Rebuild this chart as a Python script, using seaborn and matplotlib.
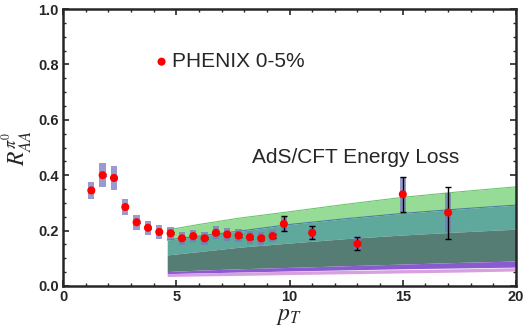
import numpy as np
import pandas as pd
import matplotlib
matplotlib.use("Agg")
import matplotlib.pyplot as plt
import seaborn as sns
from matplotlib.ticker import MultipleLocator

# PHENIX 0-5% pi0 R_AA
pt = [1.25, 1.75, 2.25, 2.75, 3.25, 3.75, 4.25, 4.75, 5.25, 5.75, 6.25,
      6.75, 7.25, 7.75, 8.25, 8.75, 9.25, 9.75, 11.0, 13.0, 15.0, 17.0]
raa = [0.345, 0.40, 0.39, 0.285, 0.23, 0.21, 0.195, 0.19, 0.172, 0.18, 0.172,
       0.192, 0.186, 0.182, 0.176, 0.172, 0.18, 0.224, 0.192, 0.152, 0.331, 0.265]
sys_err = [0.030, 0.044, 0.044, 0.029, 0.027, 0.026, 0.025, 0.024, 0.023, 0.023, 0.023,
           0.023, 0.023, 0.023, 0.023, 0.023, 0.023, 0.026, 0.022, 0.02, 0.064, 0.07]
stat_err = [0.004, 0.004, 0.004, 0.004, 0.004, 0.004, 0.004, 0.004, 0.004, 0.004, 0.004,
            0.005, 0.005, 0.005, 0.006, 0.007, 0.008, 0.027, 0.024, 0.024, 0.064, 0.094]

# AdS/CFT energy loss bands (edges)
band_pt = [4.6, 6.0, 7.8, 10.0, 12.5, 15.0, 17.5, 20.0]
pink_lo = [0.034, 0.036, 0.038, 0.041, 0.044, 0.047, 0.050, 0.054]
pink_hi = [0.045, 0.047, 0.050, 0.053, 0.056, 0.059, 0.062, 0.066]
purple_lo = [0.044, 0.047, 0.050, 0.054, 0.058, 0.062, 0.065, 0.068]
purple_hi = [0.052, 0.057, 0.062, 0.067, 0.073, 0.079, 0.085, 0.090]
dark_hi = [0.112, 0.124, 0.140, 0.155, 0.171, 0.184, 0.195, 0.205]
teal_hi = [0.166, 0.180, 0.198, 0.222, 0.243, 0.262, 0.278, 0.292]
green_hi = [0.202, 0.222, 0.245, 0.268, 0.295, 0.320, 0.340, 0.358]

df = pd.DataFrame({"pt": pt, "raa": raa, "sys": sys_err, "stat": stat_err})

sns.set_style("ticks")
plt.rcParams["font.family"] = ["Liberation Sans", "DejaVu Sans"]
plt.rcParams["mathtext.fontset"] = "stix"

fig = plt.figure(figsize=(5.25, 3.36), dpi=100)
ax = fig.add_axes([0.12, 0.149, 0.863, 0.824])

# theory bands
ax.fill_between(band_pt, dark_hi, teal_hi, color="#5fa89c", lw=0, zorder=1)
ax.fill_between(band_pt, teal_hi, green_hi, color="#96dc96", lw=0, zorder=1)
ax.plot(band_pt, green_hi, color="#6cc46c", lw=0.8, zorder=1)
ax.plot(band_pt, teal_hi, color="#4a7fa0", lw=0.8, zorder=1)
ax.fill_between(band_pt, purple_hi, dark_hi, color="#567d74", lw=0, zorder=1)
ax.fill_between(band_pt, purple_lo, purple_hi, color="#8a5ad0", lw=0, zorder=1)
ax.fill_between(band_pt, pink_lo, pink_hi, color="#d9a0e0", lw=0, zorder=1)

# systematic boxes
for _, r in df.iterrows():
    ax.bar(r["pt"], 2 * r["sys"], bottom=r["raa"] - r["sys"], width=0.28,
           color="#7878c0", alpha=0.75, lw=0, zorder=2)

# statistical error bars
ax.errorbar(df["pt"], df["raa"], yerr=df["stat"], fmt="none", ecolor="black",
            elinewidth=1.0, capsize=2.5, capthick=1.0, zorder=3)
sns.scatterplot(data=df, x="pt", y="raa", color="#ff0000", s=34, edgecolor="none",
                ax=ax, zorder=4)

# legend-like labels
ax.scatter([4.35], [0.81], color="#ff0000", s=34, edgecolor="none", zorder=4)
ax.text(4.8, 0.81, "PHENIX 0-5%", fontsize=15, va="center", ha="left")
ax.text(8.35, 0.465, "AdS/CFT Energy Loss", fontsize=15, va="center", ha="left")

ax.set_xlim(0, 20)
ax.set_ylim(0, 1.0)
ax.xaxis.set_major_locator(MultipleLocator(5))
ax.xaxis.set_minor_locator(MultipleLocator(1))
ax.yaxis.set_major_locator(MultipleLocator(0.2))
ax.yaxis.set_minor_locator(MultipleLocator(0.05))
ax.set_xticklabels([f"{int(v)}" for v in ax.get_xticks()], fontweight="bold")
ax.set_yticks([0, 0.2, 0.4, 0.6, 0.8, 1.0])
ax.set_yticklabels(["0.0", "0.2", "0.4", "0.6", "0.8", "1.0"], fontweight="bold")
ax.tick_params(which="both", direction="in", top=True, right=True, labelsize=10.5, pad=3)
ax.tick_params(which="major", length=4, width=1.2)
ax.tick_params(which="minor", length=2.5, width=1.0)
for s in ax.spines.values():
    s.set_linewidth(1.8)
    s.set_visible(True)

ax.set_xlabel(r"$p_T$", fontsize=17, labelpad=1)
ax.set_ylabel(r"$R_{AA}^{\pi^0}$", fontsize=17, labelpad=2)

fig.savefig("out.png", dpi=100)
